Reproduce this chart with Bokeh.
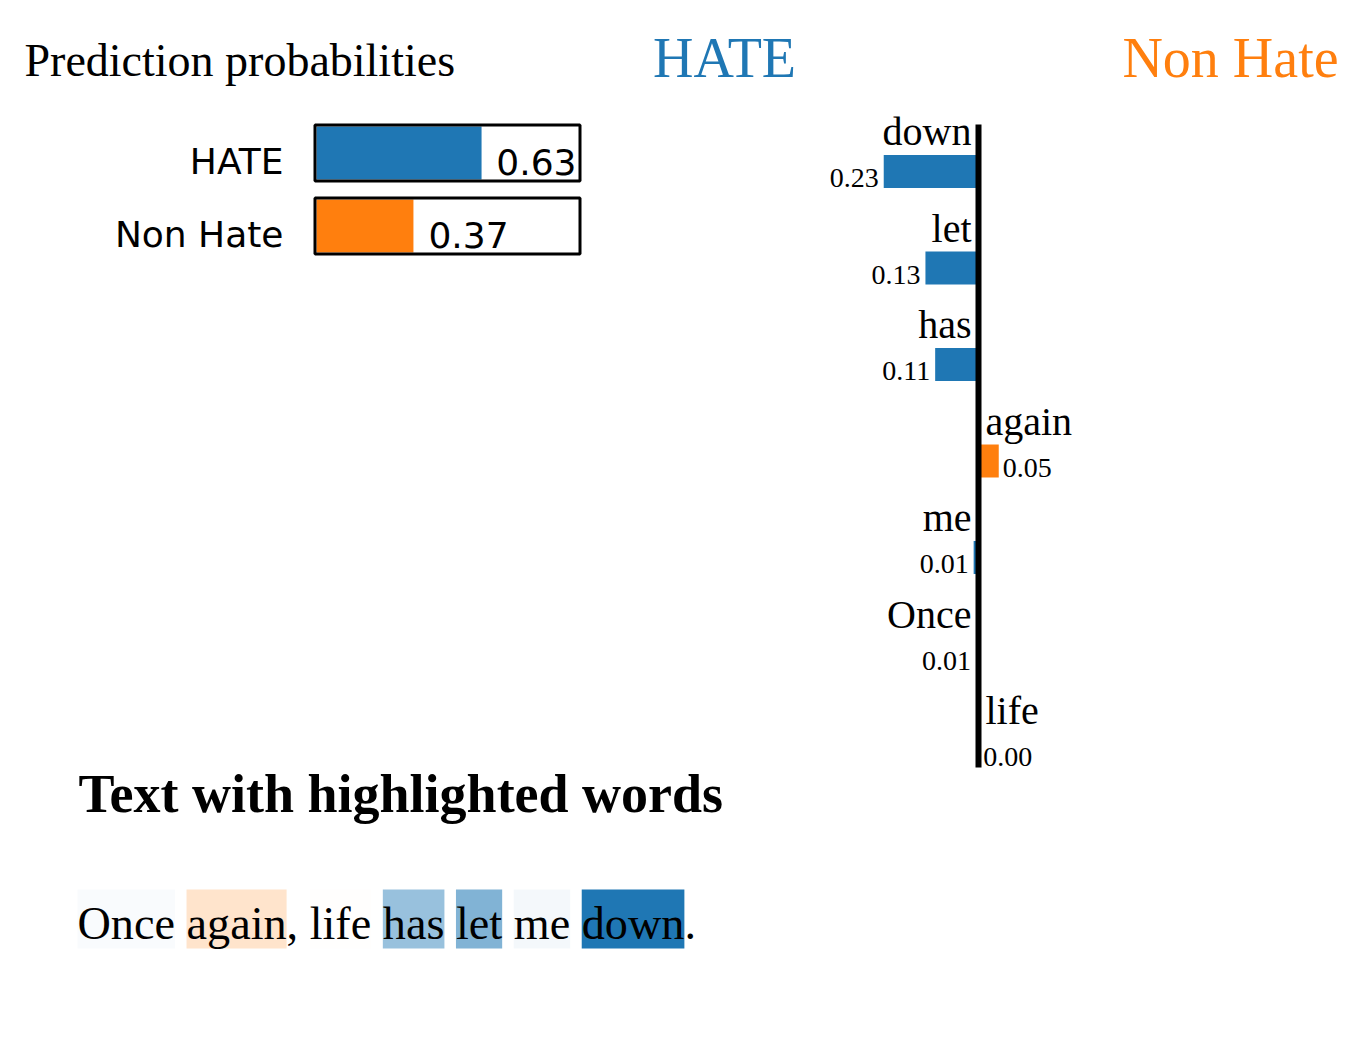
from bokeh.plotting import figure
from bokeh.models import Range1d, ColumnDataSource
from bokeh.core.properties import value
from bokeh.embed import file_html
from bokeh.resources import INLINE

# ---------------- data ----------------
class_names = ["HATE", "Non Hate"]
class_probs = [0.63, 0.37]
class_colors = ["#1f77b4", "#ff7f0e"]

# explanation weights: positive -> HATE (left), negative -> Non Hate (right)
features = ["down", "let", "has", "again", "me", "Once", "life"]
weights = [0.234, 0.131, 0.107, -0.050, 0.012, 0.006, -0.002]

sentence_tokens = ["Once", " ", "again", ", ", "life", " ", "has", " ", "let", " ", "me", " ", "down", "."]

# ---------------- layout / style ----------------
SERIF = value("Liberation Serif")
SANS = value("DejaVu Sans")
W, H = 1348, 1025
BL = 0.33  # baseline correction factor (fraction of font size)

p = figure(width=W, height=H, x_range=Range1d(0, W), y_range=Range1d(H, 0),
           output_backend="svg", toolbar_location=None, min_border=0)
p.axis.visible = False
p.grid.visible = False
p.outline_line_color = None


def txt(xs, ys, texts, fs, font=SERIF, align="left", color="black", style="normal"):
    p.text(x=xs, y=[y - BL * fs for y in ys], text=texts, text_font=font,
           text_font_size=f"{fs}px", text_baseline="alphabetic", text_align=align,
           text_color=color, text_font_style=style)


# ---- Prediction probabilities ----
txt([24], [75], ["Prediction probabilities"], 46)

box_left, box_right, inner_w = 313, 581, 262
row_tops = [123, 196]
box_h = 59
fill_src = ColumnDataSource(dict(
    left=[box_left + 3] * 2,
    right=[box_left + 3 + pr * inner_w for pr in class_probs],
    top=[t + 3 for t in row_tops],
    bottom=[t + box_h - 3 for t in row_tops],
    color=class_colors))
p.quad(left="left", right="right", top="top", bottom="bottom", fill_color="color",
       line_color=None, source=fill_src)
p.quad(left=[box_left + 1.5] * 2, right=[box_right - 1.5] * 2,
       top=[t + 1.5 for t in row_tops], bottom=[t + box_h - 1.5 for t in row_tops],
       fill_color=None, line_color="black", line_width=3)
txt([283] * 2, [t + 50 for t in row_tops], class_names, 36, font=SANS, align="right")
for pr, t in zip(class_probs, row_tops):
    end = box_left + 3 + pr * inner_w
    if pr > 0.5:
        txt([box_right - 5], [t + 50], [f"{pr:.2f}"], 36, font=SANS, align="right")
    else:
        txt([end + 15], [t + 50], [f"{pr:.2f}"], 36, font=SANS, align="left")

# ---- class headers ----
txt([724, 1230], [76, 76], class_names, 56, align="center", color=class_colors)

# ---- feature bars ----
x0, scale = 978, 405.0
row0, step, bar_h = 171, 96.5, 33
centers = [row0 + step * i for i in range(len(features))]
lefts, rights, colors = [], [], []
for w in weights:
    if w > 0:
        lefts.append(x0 - w * scale); rights.append(x0); colors.append(class_colors[0])
    else:
        lefts.append(x0); rights.append(x0 - w * scale); colors.append(class_colors[1])
p.quad(left=lefts, right=rights, top=[c - bar_h / 2 for c in centers],
       bottom=[c + bar_h / 2 for c in centers], fill_color=colors, line_color=None)

for f, w, c, l, r in zip(features, weights, centers, lefts, rights):
    if w > 0:
        txt([971], [c - bar_h / 2 - 10], [f], 40, align="right")
        txt([l - 5], [c + bar_h / 2 - 0.5], [f"{abs(w):.2f}"], 28, align="right")
    else:
        txt([985], [c - bar_h / 2 - 10], [f], 40, align="left")
        txt([r + 4], [c + bar_h / 2 - 0.5], [f"{abs(w):.2f}"], 28, align="left")

# axis line
p.quad(left=[975], right=[981], top=[124], bottom=[767], fill_color="black", line_color=None)

# ---- Text with highlighted words ----
txt([78], [811], ["Text with highlighted words"], 54, style="bold")

# Times / Liberation Serif advance widths (per em)
adv = {"O": .722, "n": .5, "c": .444, "e": .444, "a": .444, "g": .5, "i": .278, ",": .25,
       " ": .25, "l": .278, "f": .333, "h": .5, "s": .389, "t": .278, "m": .778, "d": .5,
       "o": .5, "w": .722, ".": .25}
fs = 46.2
wmap = dict(zip(features, weights))
maxw = max(abs(w) for w in weights)
x = 77
hx, hw, hc, ha = [], [], [], []
tx, tt = [], []
for tok in sentence_tokens:
    width = sum(adv[ch] for ch in tok) * fs
    if tok in wmap:
        w = wmap[tok]
        hx.append(x); hw.append(x + width)
        hc.append(class_colors[0] if w > 0 else class_colors[1])
        ha.append(abs(w) / maxw)
    if tok.strip():
        tx.append(x); tt.append(tok.strip())
    x += width
p.quad(left=hx, right=hw, top=[889] * len(hx), bottom=[948] * len(hx), fill_color=hc,
       fill_alpha=ha, line_color=None)
txt(tx, [938] * len(tx), tt, fs)

open("out.html", "w").write(file_html(p, INLINE))
